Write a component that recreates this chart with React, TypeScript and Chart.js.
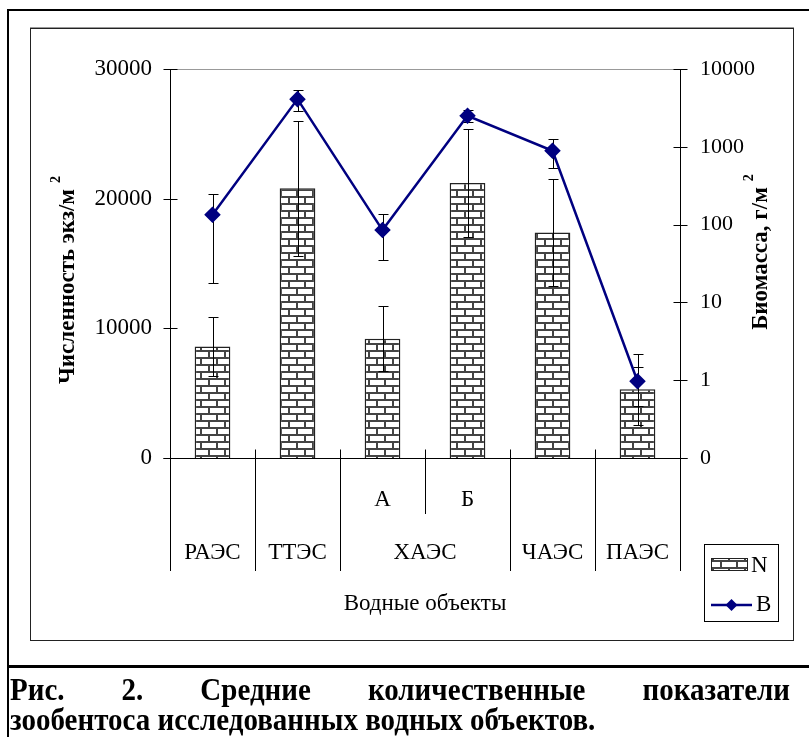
import React, { useEffect, useRef } from 'react';
import { Chart, registerables } from 'chart.js';

Chart.register(...registerables);

// ---- data ----
const categories = ['РАЭС', 'ТТЭС', 'ХАЭС А', 'ХАЭС Б', 'ЧАЭС', 'ПАЭС'];
const subLabels = ['', '', 'А', 'Б', '', ''];
const groupNames = ['РАЭС', 'ТТЭС', 'ХАЭС', 'ЧАЭС', 'ПАЭС'];
const groupSpans = [1, 1, 2, 1, 1];
const abundance = [8600, 20800, 9200, 21200, 17400, 5300];
const abundanceErr = [2300, 5200, 2500, 4150, 4150, 2750];
const biomass = [134, 4100, 85, 2500, 890, 0.97];
const biomassErr = [116, 1200, 50, 430, 360, 0.5];
const leftTicks = [0, 10000, 20000, 30000];
const rightTicks = [0.1, 1, 10, 100, 1000, 10000];
const xTitle = 'Водные объекты';
const leftTitle = 'Численность экз/м';
const rightTitle = 'Биомасса, г/м';
const seriesNames = ['N', 'B'];
const captionLine1 = 'Рис. 2. Средние количественные показатели';
const captionLine2 = 'зообентоса исследованных водных объектов.';

const SERIF = "'Liberation Serif', 'Times New Roman', serif";
const NAVY = '#000080';

function makeBrickPattern(): CanvasPattern | string {
  const c = document.createElement('canvas');
  c.width = 16;
  c.height = 14;
  const g = c.getContext('2d');
  if (!g) return '#fff';
  g.fillStyle = '#fff';
  g.fillRect(0, 0, 16, 14);
  g.fillStyle = '#444';
  g.fillRect(0, 0, 16, 2);
  g.fillRect(0, 7, 16, 2);
  g.fillRect(0, 0, 2, 7);
  g.fillRect(8, 7, 2, 7);
  const p = g.createPattern(c, 'repeat');
  return p || '#fff';
}

function drawErrors(chart: any, dsIndex: number, vals: number[], errs: number[], axis: string) {
  const meta = chart.getDatasetMeta(dsIndex);
  const scale = chart.scales[axis];
  const ctx = chart.ctx;
  ctx.save();
  ctx.strokeStyle = '#000';
  ctx.lineWidth = 1;
  vals.forEach((v, i) => {
    const el = meta.data[i];
    if (!el) return;
    const x = Math.round(el.x) + 0.5;
    const lo = Math.max(v - errs[i], scale.min);
    const yT = Math.round(scale.getPixelForValue(v + errs[i])) + 0.5;
    const yB = Math.round(scale.getPixelForValue(lo)) + 0.5;
    ctx.beginPath();
    ctx.moveTo(x, yT);
    ctx.lineTo(x, yB);
    ctx.moveTo(x - 5, yT);
    ctx.lineTo(x + 5, yT);
    ctx.moveTo(x - 5, yB);
    ctx.lineTo(x + 5, yB);
    ctx.stroke();
  });
  ctx.restore();
}

function drawRotatedTitle(ctx: CanvasRenderingContext2D, text: string, cx: number, cy: number) {
  ctx.save();
  ctx.translate(cx, cy);
  ctx.rotate(-Math.PI / 2);
  ctx.fillStyle = '#000';
  ctx.font = `bold 23px ${SERIF}`;
  const w = ctx.measureText(text).width;
  ctx.font = `bold 14px ${SERIF}`;
  const sw = ctx.measureText('2').width;
  const total = w + 6 + sw;
  ctx.textBaseline = 'alphabetic';
  ctx.textAlign = 'left';
  ctx.font = `bold 23px ${SERIF}`;
  ctx.fillText(text, -total / 2, 8);
  ctx.font = `bold 14px ${SERIF}`;
  ctx.fillText('2', -total / 2 + w + 6, -6);
  ctx.restore();
}

export default function App() {
  const ref = useRef<HTMLCanvasElement>(null);

  useEffect(() => {
    const canvas = ref.current;
    if (!canvas) return;
    const pattern = makeBrickPattern();

    const errPlugin = {
      id: 'errbars',
      afterDatasetDraw(chart: any, args: any) {
        if (args.index === 0) drawErrors(chart, 0, abundance, abundanceErr, 'y');
      },
      beforeDatasetDraw(chart: any, args: any) {
        if (args.index === 1) drawErrors(chart, 1, biomass, biomassErr, 'y1');
      },
    };

    const framePlugin = {
      id: 'frame',
      beforeDatasetsDraw(chart: any) {
        const ctx = chart.ctx as CanvasRenderingContext2D;
        const { left, right, top, bottom } = chart.chartArea;
        const L = Math.round(left) + 0.5;
        const R = Math.round(right) + 0.5;
        const T = Math.round(top) + 0.5;
        const B = Math.round(bottom) + 0.5;
        ctx.save();
        ctx.lineWidth = 1;
        ctx.strokeStyle = '#999';
        ctx.beginPath();
        ctx.moveTo(L, T);
        ctx.lineTo(R, T);
        ctx.stroke();
        ctx.strokeStyle = '#000';
        ctx.beginPath();
        ctx.moveTo(L, T);
        ctx.lineTo(L, 571);
        ctx.moveTo(R, T);
        ctx.lineTo(R, 571);
        ctx.moveTo(L - 7, B);
        ctx.lineTo(R + 7, B);
        const ys = chart.scales.y;
        leftTicks.forEach((v) => {
          const y = Math.round(ys.getPixelForValue(v)) + 0.5;
          ctx.moveTo(L - 7, y);
          ctx.lineTo(L + 7, y);
        });
        const y1 = chart.scales.y1;
        rightTicks.forEach((v) => {
          const y = Math.round(y1.getPixelForValue(v)) + 0.5;
          ctx.moveTo(R - 7, y);
          ctx.lineTo(R + 7, y);
        });
        const n = categories.length;
        const step = (right - left) / n;
        for (let i = 1; i < n; i++) {
          const x = Math.round(left + i * step) + 0.5;
          const inner = subLabels[i - 1] !== '' && subLabels[i] !== '';
          ctx.moveTo(x, B - 9);
          ctx.lineTo(x, inner ? 514 : 571);
        }
        ctx.stroke();
        ctx.restore();
      },
      afterDraw(chart: any) {
        const ctx = chart.ctx as CanvasRenderingContext2D;
        const xs = chart.scales.x;
        ctx.save();
        ctx.fillStyle = '#000';
        ctx.font = `23px ${SERIF}`;
        ctx.textAlign = 'center';
        ctx.textBaseline = 'middle';
        subLabels.forEach((s, i) => {
          if (s) ctx.fillText(s, xs.getPixelForValue(i), 500);
        });
        let idx = 0;
        groupNames.forEach((g, gi) => {
          const a = xs.getPixelForValue(idx);
          const b = xs.getPixelForValue(idx + groupSpans[gi] - 1);
          ctx.fillText(g, (a + b) / 2, 553);
          idx += groupSpans[gi];
        });
        ctx.font = `23px ${SERIF}`;
        ctx.fillText(xTitle, (chart.chartArea.left + chart.chartArea.right) / 2, 604);

        // legend
        ctx.lineWidth = 1;
        ctx.strokeStyle = '#000';
        ctx.strokeRect(704.5, 544.5, 74, 77);
        ctx.fillStyle = pattern as any;
        ctx.fillRect(711, 558, 37, 12);
        ctx.strokeStyle = '#222';
        ctx.strokeRect(711.5, 558.5, 36, 12);
        ctx.fillStyle = '#000';
        ctx.textAlign = 'left';
        ctx.font = `23px ${SERIF}`;
        ctx.fillText(seriesNames[0], 751, 566);
        ctx.strokeStyle = NAVY;
        ctx.lineWidth = 2.5;
        ctx.beginPath();
        ctx.moveTo(711, 605);
        ctx.lineTo(752, 605);
        ctx.stroke();
        ctx.fillStyle = NAVY;
        ctx.beginPath();
        ctx.moveTo(731.5, 599);
        ctx.lineTo(737.5, 605);
        ctx.lineTo(731.5, 611);
        ctx.lineTo(725.5, 605);
        ctx.closePath();
        ctx.fill();
        ctx.fillStyle = '#000';
        ctx.fillText(seriesNames[1], 756, 605);
        ctx.restore();

        drawRotatedTitle(ctx, leftTitle, 66, 280);
        drawRotatedTitle(ctx, rightTitle, 759, 252);
      },
    };

    const chart = new Chart(canvas, {
      type: 'bar',
      data: {
        labels: categories,
        datasets: [
          {
            type: 'bar',
            label: seriesNames[0],
            data: abundance,
            yAxisID: 'y',
            backgroundColor: pattern as any,
            borderColor: '#222',
            borderWidth: 1.5,
            barPercentage: 0.42,
            categoryPercentage: 1,
            order: 2,
          },
          {
            type: 'line',
            label: seriesNames[1],
            data: biomass,
            yAxisID: 'y1',
            borderColor: NAVY,
            backgroundColor: NAVY,
            borderWidth: 2.5,
            pointStyle: 'rectRot',
            pointRadius: 6.5,
            pointBackgroundColor: NAVY,
            pointBorderColor: NAVY,
            tension: 0,
            order: 1,
            clip: false as any,
          },
        ],
      },
      options: {
        responsive: false,
        maintainAspectRatio: false,
        devicePixelRatio: 1,
        animation: false,
        layout: { padding: { top: 69, left: 0, right: 0, bottom: 0 } },
        plugins: {
          legend: { display: false },
          tooltip: { enabled: false },
          title: { display: false },
        },
        scales: {
          x: {
            type: 'category',
            offset: true,
            grid: { display: false, drawTicks: false },
            border: { display: false },
            ticks: { display: false },
            afterFit: (s: any) => {
              s.height = 279;
            },
          },
          y: {
            type: 'linear',
            position: 'left',
            min: 0,
            max: 30000,
            grid: { display: false, drawTicks: false },
            border: { display: false },
            afterBuildTicks: (s: any) => {
              s.ticks = leftTicks.map((v) => ({ value: v }));
            },
            ticks: {
              padding: 18,
              color: '#000',
              font: { family: SERIF, size: 23 },
              callback: (v: any) => String(v),
            },
            afterFit: (s: any) => {
              s.width = 170;
            },
          },
          y1: {
            type: 'logarithmic',
            position: 'right',
            min: 0.1,
            max: 10000,
            grid: { display: false, drawTicks: false },
            border: { display: false },
            afterBuildTicks: (s: any) => {
              s.ticks = rightTicks.map((v) => ({ value: v }));
            },
            ticks: {
              padding: 20,
              color: '#000',
              font: { family: SERIF, size: 22 },
              callback: (v: any) => {
                const n = Number(v);
                return n < 0.5 ? '0' : String(Math.round(n));
              },
            },
            afterFit: (s: any) => {
              s.width = 129;
            },
          },
        },
      },
      plugins: [errPlugin, framePlugin],
    } as any);

    return () => chart.destroy();
  }, []);

  const captionStyle: React.CSSProperties = {
    position: 'absolute',
    left: 10,
    width: 780,
    fontFamily: SERIF,
    fontWeight: 'bold',
    fontSize: 29,
    lineHeight: '28px',
    color: '#000',
    transform: 'scaleY(1.12)',
    transformOrigin: 'left top',
  };

  return (
    <div
      style={{
        position: 'absolute',
        left: 0,
        top: 0,
        width: 809,
        height: 737,
        background: '#fff',
        overflow: 'hidden',
      }}
    >
      <div
        style={{
          position: 'absolute',
          left: 7,
          top: 9,
          width: 900,
          height: 800,
          borderLeft: '2px solid #000',
          borderTop: '2px solid #000',
        }}
      />
      <div
        style={{
          position: 'absolute',
          left: 7,
          top: 665,
          width: 900,
          height: 0,
          borderTop: '3px solid #000',
        }}
      />
      <div
        style={{
          position: 'absolute',
          left: 30,
          top: 28,
          width: 764,
          height: 613,
          boxSizing: 'border-box',
          border: '1px solid #222',
          boxShadow: '0 -1px 0 #999',
        }}
      />
      <canvas
        ref={ref}
        width={809}
        height={737}
        style={{ position: 'absolute', left: 0, top: 0, width: 809, height: 737, display: 'block' }}
      />
      <div style={{ ...captionStyle, top: 673, textAlign: 'justify', textAlignLast: 'justify' as any }}>
        {captionLine1}
      </div>
      <div style={{ ...captionStyle, top: 703, textAlign: 'left', whiteSpace: 'nowrap' }}>{captionLine2}</div>
    </div>
  );
}
